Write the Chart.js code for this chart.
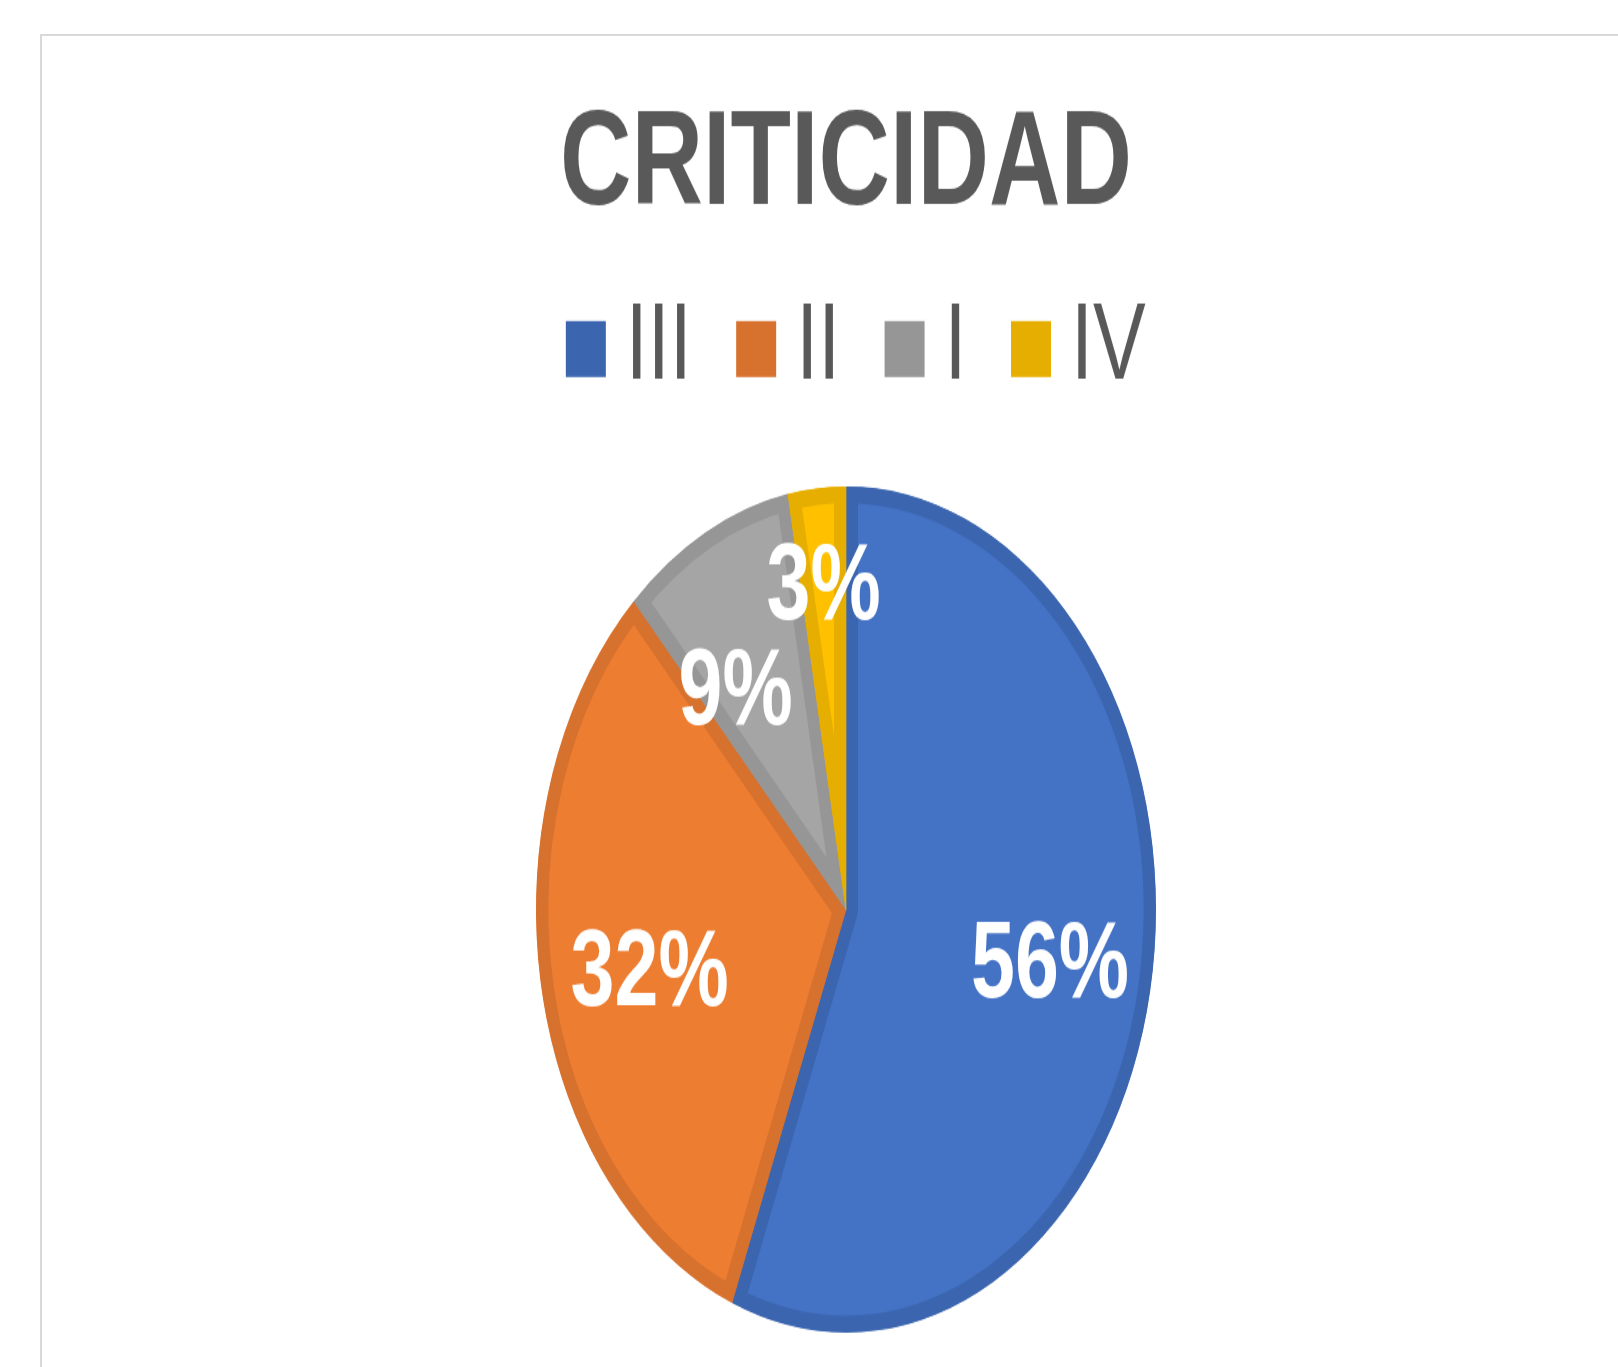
<!DOCTYPE html>
<html>
<head>
<meta charset="utf-8">
<title>Criticidad</title>
<script src="https://cdn.jsdelivr.net/npm/chart.js@4.4.1/dist/chart.umd.min.js"></script>
<style>
  html, body { margin: 0; padding: 0; background: #fff; width: 1618px; height: 1367px; overflow: hidden; }
  .frame { position: absolute; left: 40px; top: 34px; width: 1700px; height: 1500px; border: 2px solid #d9d9d9; box-sizing: border-box; }
  /* the original picture is stretched vertically, so the canvas is too */
  .stretch { position: absolute; left: 41px; top: 36px; transform: scaleY(1.365); transform-origin: 0 0; }
</style>
</head>
<body>
<div class="frame"></div>
<div class="stretch">
  <canvas id="pieChart" width="1610" height="1001"></canvas>
</div>
<script>
// datos
const labels = ['III', 'II', 'I', 'IV'];
const values = [56, 32, 9, 3];

// colores (relleno y borde oscuro tipo Excel)
const fillColors = ['#4472c4', '#ed7d31', '#a5a5a5', '#ffc000'];
const edgeColors = ['#3b65af', '#d6712e', '#969696', '#e6ae00'];

// posicion de las etiquetas (fraccion del radio y giro en grados)
const labelRadius = [0.67, 0.65, 0.63, 0.77];
const labelTurn = [0, -2.2, -7.4, 0];

const FONT = '"Liberation Sans", Arial, sans-serif';

// etiquetas de porcentaje dentro de cada sector
const pieLabels = {
  id: 'pieLabels',
  afterDatasetsDraw(chart) {
    const ctx = chart.ctx;
    const meta = chart.getDatasetMeta(0);
    const total = values.reduce((a, b) => a + b, 0);
    ctx.save();
    ctx.font = 'bold 79px ' + FONT;
    ctx.fillStyle = '#ffffff';
    ctx.textAlign = 'center';
    ctx.textBaseline = 'middle';
    meta.data.forEach((arc, i) => {
      const p = arc.getProps(['x', 'y', 'startAngle', 'endAngle', 'outerRadius'], true);
      const mid = (p.startAngle + p.endAngle) / 2 + labelTurn[i] * Math.PI / 180;
      const r = p.outerRadius * labelRadius[i];
      const pct = Math.round(values[i] / total * 100) + '%';
      ctx.fillText(pct, p.x + Math.cos(mid) * r, p.y + Math.sin(mid) * r + 3);
    });
    ctx.restore();
  }
};

// cuadros de la leyenda, mas cerca del texto que en Chart.js
const legendBoxes = {
  id: 'legendBoxes',
  afterDraw(chart) {
    const legend = chart.legend;
    if (!legend || !legend.legendHitBoxes) return;
    const ctx = chart.ctx;
    const itemH = legend.options.labels.font.size;
    ctx.save();
    legend.legendHitBoxes.forEach((hb, i) => {
      ctx.fillStyle = edgeColors[i];
      ctx.fillRect(hb.left + 19.5, hb.top + (itemH - 41) / 2, 40, 41);
    });
    ctx.restore();
  }
};

const ctx = document.getElementById('pieChart').getContext('2d');
new Chart(ctx, {
  type: 'pie',
  data: {
    labels: labels,
    datasets: [{
      data: values,
      backgroundColor: fillColors,
      borderColor: edgeColors,
      borderWidth: 12,
      borderAlign: 'inner',
      radius: 310
    }]
  },
  options: {
    responsive: false,
    animation: false,
    devicePixelRatio: 1,
    layout: { padding: 0 },
    plugins: {
      title: {
        display: true,
        text: 'CRITICIDAD',
        color: '#595959',
        font: { family: FONT, size: 99, weight: 'bold' },
        padding: { top: 36, bottom: 10 }
      },
      legend: {
        display: true,
        position: 'top',
        labels: {
          color: '#595959',
          font: { family: FONT, size: 79 },
          boxWidth: 40,
          boxHeight: 41,
          padding: 25,
          generateLabels: () => labels.map((t, i) => ({
            text: t,
            fillStyle: 'rgba(0,0,0,0)',
            strokeStyle: 'rgba(0,0,0,0)',
            lineWidth: 0,
            fontColor: '#595959',
            hidden: false,
            index: i
          }))
        }
      },
      tooltip: { enabled: false }
    }
  },
  plugins: [pieLabels, legendBoxes]
});
</script>
</body>
</html>
